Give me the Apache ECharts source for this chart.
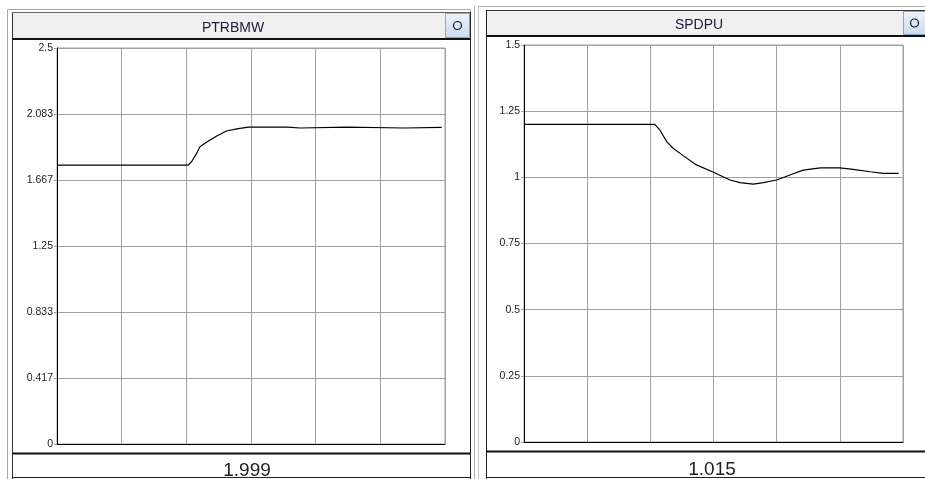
<!DOCTYPE html>
<html><head><meta charset="utf-8">
<script src="https://cdn.jsdelivr.net/npm/echarts@6/dist/echarts.min.js"></script>
<style>html,body{margin:0;padding:0;background:#fff}#c{width:925px;height:479px}</style>
</head><body><div id="c"></div>
<script>
// ---- data ----
const panelTitles = ['PTRBMW', 'SPDPU'];
const panelValues = ['1.999', '1.015'];
const ptrbmwTicks = ['0', '0.417', '0.833', '1.25', '1.667', '2.083', '2.5'];
const spdpuTicks = ['0', '0.25', '0.5', '0.75', '1', '1.25', '1.5'];
const ptrbmwT = [0, 2.03, 2.08, 2.16, 2.21, 2.31, 2.47, 2.62, 2.78, 2.96, 3.57, 3.58, 3.76, 3.77, 4.48, 4.49, 5.38, 5.39, 5.95];
const ptrbmwV = [1.761, 1.761, 1.782, 1.835, 1.877, 1.905, 1.944, 1.976, 1.989, 2.001, 2.001, 1.995, 1.995, 2.001, 2.001, 1.995, 1.995, 2.0, 1.999];
const spdpuT = [0, 2.07, 2.15, 2.26, 2.36, 2.52, 2.73, 3.0, 3.26, 3.42, 3.63, 3.79, 4.0, 4.21, 4.42, 4.69, 5.0, 5.21, 5.48, 5.69, 5.93];
const spdpuV = [1.2, 1.2, 1.179, 1.135, 1.11, 1.082, 1.047, 1.019, 0.99, 0.98, 0.974, 0.98, 0.99, 1.009, 1.027, 1.036, 1.036, 1.03, 1.021, 1.015, 1.015];

const chart = echarts.init(document.getElementById('c'));
const FONT = 'Liberation Sans, Arial, sans-serif';
function zip(a, b) { return a.map((t, i) => [t, b[i]]); }
function yAxis(idx, ticks) {
  const max = parseFloat(ticks[ticks.length - 1]);
  const step = max / (ticks.length - 1);
  return {
    type: 'value', gridIndex: idx, min: 0, max: max, interval: step,
    axisLine: { show: true, lineStyle: { color: '#000', width: 1 } },
    axisTick: { show: true, length: 3, lineStyle: { color: '#999' } },
    axisLabel: { fontFamily: FONT, fontSize: 10.5, color: '#222', margin: 4,
      formatter: v => ticks[Math.round(v / step)] },
    splitLine: { show: true, lineStyle: { color: '#a0a0a0', width: 1 } }
  };
}
function xAxis(idx) {
  return {
    type: 'value', gridIndex: idx, min: 0, max: 6, interval: 1,
    axisLine: { show: true, lineStyle: { color: '#000', width: 1 } },
    axisTick: { show: false }, axisLabel: { show: false },
    splitLine: { show: true, lineStyle: { color: '#a0a0a0', width: 1 } }
  };
}
function button(x, y, w, h) {
  return [
    { type: 'rect', shape: { x: x, y: y, width: w, height: h },
      style: { fill: new echarts.graphic.LinearGradient(0, 0, 0, 1, [{ offset: 0, color: '#eef4fb' }, { offset: 1, color: '#c9daee' }]), stroke: '#8ea4bf', lineWidth: 1 } },
    { type: 'circle', shape: { cx: x + w / 2, cy: y + h / 2, r: 4 }, style: { fill: 'none', stroke: '#111', lineWidth: 1.2 } }
  ];
}
const graphics = [
  // left panel frame
  { type: 'rect', shape: { x: 7.5, y: 9.5, width: 463, height: 470 }, style: { fill: 'none', stroke: '#a8a8a8', lineWidth: 1 } },
  { type: 'rect', shape: { x: 12, y: 12, width: 433, height: 26 }, style: { fill: '#f0f0f0' } },
  { type: 'line', shape: { x1: 12.5, y1: 12, x2: 12.5, y2: 479 }, style: { stroke: '#333', lineWidth: 1 } },
  { type: 'line', shape: { x1: 12, y1: 12.5, x2: 470, y2: 12.5 }, style: { stroke: '#666', lineWidth: 1 } },
  { type: 'line', shape: { x1: 470.5, y1: 12, x2: 470.5, y2: 479 }, style: { stroke: '#222', lineWidth: 1 } },
  { type: 'line', shape: { x1: 12, y1: 39, x2: 470, y2: 39 }, style: { stroke: '#111', lineWidth: 2 } },
  { type: 'line', shape: { x1: 12, y1: 453.5, x2: 470, y2: 453.5 }, style: { stroke: '#111', lineWidth: 2 } },
  { type: 'line', shape: { x1: 12, y1: 477.5, x2: 470, y2: 477.5 }, style: { stroke: '#222', lineWidth: 1 } },
  ...button(445.5, 13.5, 24, 24),
  // separator
  { type: 'line', shape: { x1: 474.5, y1: 6, x2: 474.5, y2: 479 }, style: { stroke: '#b0b0b0', lineWidth: 1 } },
  { type: 'line', shape: { x1: 478.5, y1: 6, x2: 478.5, y2: 479 }, style: { stroke: '#c0c0c0', lineWidth: 1 } },
  // right panel frame
  { type: 'line', shape: { x1: 479, y1: 6.5, x2: 925, y2: 6.5 }, style: { stroke: '#b0b0b0', lineWidth: 1 } },
  { type: 'rect', shape: { x: 486, y: 11, width: 417, height: 24 }, style: { fill: '#f0f0f0' } },
  { type: 'line', shape: { x1: 486, y1: 10.5, x2: 925, y2: 10.5 }, style: { stroke: '#333', lineWidth: 1 } },
  { type: 'line', shape: { x1: 486.5, y1: 10, x2: 486.5, y2: 479 }, style: { stroke: '#222', lineWidth: 1 } },
  { type: 'line', shape: { x1: 486, y1: 36, x2: 925, y2: 36 }, style: { stroke: '#111', lineWidth: 2 } },
  { type: 'line', shape: { x1: 486, y1: 451.5, x2: 925, y2: 451.5 }, style: { stroke: '#111', lineWidth: 2 } },
  { type: 'line', shape: { x1: 486, y1: 477.5, x2: 925, y2: 477.5 }, style: { stroke: '#222', lineWidth: 1 } },
  ...button(903.5, 11.5, 22, 23)
];

chart.setOption({
  animation: false,
  backgroundColor: '#fff',
  title: [
    { text: panelTitles[0], left: 228, top: 16, textAlign: 'center', textStyle: { fontFamily: FONT, fontSize: 14, fontWeight: 'normal', color: '#1c1c3a' } },
    { text: panelTitles[1], left: 694, top: 13, textAlign: 'center', textStyle: { fontFamily: FONT, fontSize: 14, fontWeight: 'normal', color: '#1c1c3a' } },
    { text: panelValues[0], left: 242, top: 456, textAlign: 'center', textStyle: { fontFamily: FONT, fontSize: 19, fontWeight: 'normal', color: '#222' } },
    { text: panelValues[1], left: 707, top: 455, textAlign: 'center', textStyle: { fontFamily: FONT, fontSize: 19, fontWeight: 'normal', color: '#222' } }
  ],
  graphic: graphics,
  grid: [
    { left: 57, top: 48, width: 388, height: 396, show: true, borderColor: '#a0a0a0', borderWidth: 1, backgroundColor: '#fff' },
    { left: 524, top: 45, width: 379, height: 397, show: true, borderColor: '#a0a0a0', borderWidth: 1, backgroundColor: '#fff' }
  ],
  xAxis: [xAxis(0), xAxis(1)],
  yAxis: [yAxis(0, ptrbmwTicks), yAxis(1, spdpuTicks)],
  series: [
    { type: 'line', xAxisIndex: 0, yAxisIndex: 0, data: zip(ptrbmwT, ptrbmwV), showSymbol: false, lineStyle: { color: '#000', width: 1.2 } },
    { type: 'line', xAxisIndex: 1, yAxisIndex: 1, data: zip(spdpuT, spdpuV), showSymbol: false, lineStyle: { color: '#000', width: 1.2 } }
  ]
});
</script></body></html>
